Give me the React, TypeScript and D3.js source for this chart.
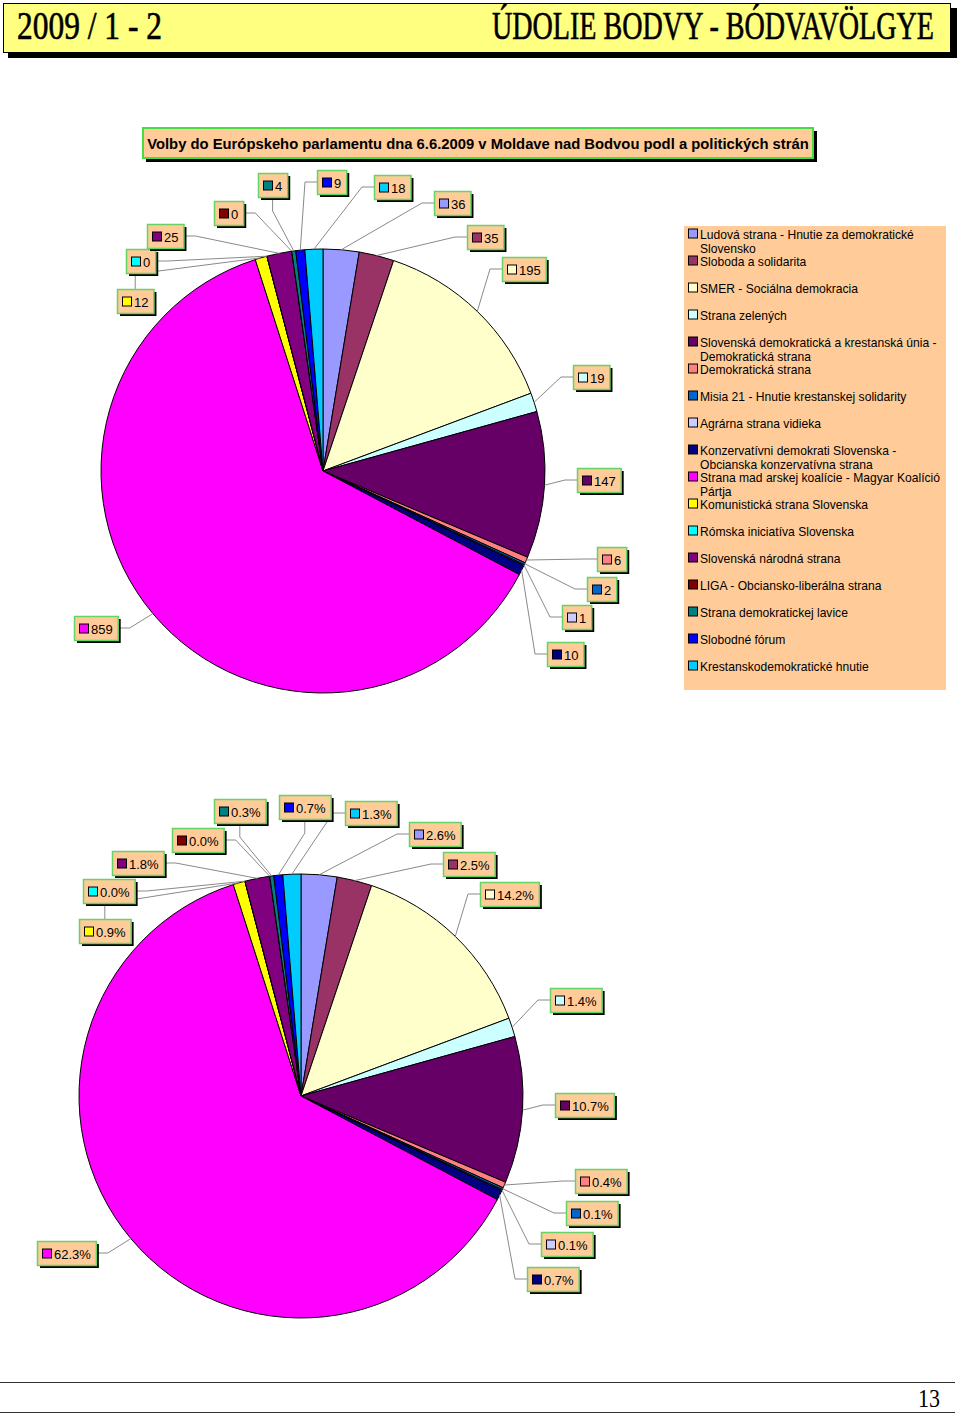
import React from "react";
import * as d3 from "d3";

// ---------- DATA ----------
const parties: string[][] = [
  ["Ludová strana - Hnutie za demokratické", "Slovensko"],
  ["Sloboda a solidarita"],
  ["SMER - Sociálna demokracia"],
  ["Strana zelených"],
  ["Slovenská demokratická a krestanská únia -", "Demokratická strana"],
  ["Demokratická strana"],
  ["Misia 21 - Hnutie krestanskej solidarity"],
  ["Agrárna strana vidieka"],
  ["Konzervatívni demokrati Slovenska -", "Obcianska konzervatívna strana"],
  ["Strana mad arskej koalície - Magyar Koalíció", "Pártja"],
  ["Komunistická strana Slovenska"],
  ["Rómska iniciatíva Slovenska"],
  ["Slovenská národná strana"],
  ["LIGA - Obciansko-liberálna strana"],
  ["Strana demokratickej lavice"],
  ["Slobodné fórum"],
  ["Krestanskodemokratické hnutie"],
];
const votes = [36, 35, 195, 19, 147, 6, 2, 1, 10, 859, 12, 0, 25, 0, 4, 9, 18];
const colors = [
  "#9999FF", "#993366", "#FFFFCC", "#CCFFFF", "#660066", "#FF8080", "#0066CC",
  "#CCCCFF", "#000080", "#FF00FF", "#FFFF00", "#00FFFF", "#800080", "#800000",
  "#008080", "#0000FF", "#00CCFF",
];
const headerLeft = "2009 / 1 - 2";
const headerRight = "ÚDOLIE BODVY - BÓDVAVÖLGYE";
const chartTitle = "Volby do Európskeho parlamentu dna 6.6.2009 v Moldave nad Bodvou podl a politických strán";
const pageNumber = "13";

// ---------- LAYOUT (label box offsets from pie centre, and leader anchor side) ----------
type Lay = [number, number, "l" | "r" | "t" | "b"];
const labelLayout1: Lay[] = [
  [111, -280, "l"], [144, -246, "l"], [179, -214, "l"], [250, -106, "l"], [254, -3, "l"],
  [274, 76, "l"], [264, 106, "l"], [239, 134, "l"], [224, 171, "l"], [-249, 145, "r"],
  [-206, -182, "t"], [-197, -222, "r"], [-176, -247, "r"], [-109, -270, "r"], [-65, -298, "b"],
  [-6, -301, "l"], [51, -296, "l"],
];
const labelLayout2: Lay[] = [
  [108, -274, "l"], [142, -244, "l"], [179, -214, "l"], [249, -108, "l"], [254, -3, "l"],
  [274, 73, "l"], [265, 105, "l"], [240, 136, "l"], [226, 171, "l"], [-264, 145, "r"],
  [-222, -177, "t"], [-218, -217, "r"], [-189, -245, "r"], [-129, -268, "r"], [-87, -297, "b"],
  [-22, -301, "b"], [44, -295, "l"],
];

const W = 960;
const H = 1414;
const R = 222;
const LABEL_FONT = "13px 'Liberation Sans', Arial, sans-serif";
const HEAD_FONT = "38px 'Liberation Serif', serif";

let ctx: CanvasRenderingContext2D | null = null;
function measure(t: string, font: string) {
  if (!ctx) ctx = document.createElement("canvas").getContext("2d");
  if (!ctx) return t.length * 7;
  ctx.font = font;
  return ctx.measureText(t).width;
}

function Pie({ cx, cy, texts, layout }: { cx: number; cy: number; texts: string[]; layout: Lay[] }) {
  const pie = d3.pie<number>().sort(null).value((d) => d)(votes);
  const arc = d3.arc<d3.PieArcDatum<number>>().innerRadius(0).outerRadius(R);
  const edge = d3.arc<d3.PieArcDatum<number>>().innerRadius(R).outerRadius(R);
  const line = d3.line();
  return (
    <g transform={`translate(${cx},${cy})`}>
      {pie.map((p, i) => (
        <path key={i} d={arc(p) || ""} fill={colors[i]} stroke="#000" strokeWidth={1} strokeLinejoin="round" />
      ))}
      {pie.map((p, i) => {
        const [dx, dy, side] = layout[i];
        const tw = measure(texts[i], LABEL_FONT);
        const bw = 5 + 10 + 2 + tw + 5;
        const bh = 24;
        const [ex, ey] = edge.centroid(p);
        let pts: [number, number][];
        if (side === "l") pts = [[ex, ey], [dx - 12, dy + bh / 2], [dx, dy + bh / 2]];
        else if (side === "r") pts = [[ex, ey], [dx + bw + 12, dy + bh / 2], [dx + bw, dy + bh / 2]];
        else if (side === "t") pts = [[ex, ey], [dx + bw / 2, dy - 15], [dx + bw / 2, dy]];
        else pts = [[ex, ey], [dx + bw / 2, dy + bh + 14], [dx + bw / 2, dy + bh]];
        return <path key={"l" + i} d={line(pts) || ""} fill="none" stroke="#8a8a8a" strokeWidth={1} />;
      })}
      {pie.map((p, i) => {
        const [dx, dy] = layout[i];
        const tw = measure(texts[i], LABEL_FONT);
        const bw = 5 + 10 + 2 + tw + 5;
        const bh = 24;
        return (
          <g key={"b" + i} transform={`translate(${dx},${dy})`}>
            <rect x={3} y={3} width={bw} height={bh} fill="#000" />
            <rect x={0.5} y={0.5} width={bw} height={bh} fill="#FFCC99" stroke="#66D366" strokeWidth={1.5} />
            <rect x={5.5} y={8} width={9} height={9} fill={colors[i]} stroke="#000" strokeWidth={1} />
            <text x={17} y={17.5} style={{ font: LABEL_FONT }} fill="#000">
              {texts[i]}
            </text>
          </g>
        );
      })}
    </g>
  );
}

function Squeezed({ x, y, width, text }: { x: number; y: number; width: number; text: string }) {
  const natural = measure(text, HEAD_FONT);
  const s = width / natural;
  return (
    <text transform={`translate(${x},${y}) scale(${s},1.05)`} style={{ font: HEAD_FONT }} fill="#000"
      stroke="#000" strokeWidth={0.6}>
      {text}
    </text>
  );
}

export default function App() {
  const total = d3.sum(votes);
  const countTexts = votes.map((v) => String(v));
  const pctTexts = votes.map((v) => ((v / total) * 100).toFixed(1) + "%");
  const legendY = d3.scaleLinear().domain([0, parties.length - 1]).range([234, 666]);

  return (
    <svg width={W} height={H} style={{ position: "absolute", left: 0, top: 0, background: "#fff" }}>
      {/* header */}
      <rect x={8} y={8} width={949} height={50} fill="#000" />
      <rect x={3.5} y={3.5} width={947} height={49} fill="#FFFF80" stroke="#000" strokeWidth={1} />
      <Squeezed x={17} y={39} width={145} text={headerLeft} />
      <Squeezed x={492} y={39} width={443} text={headerRight} />

      {/* title */}
      <rect x={146} y={131} width={671} height={31} fill="#000" />
      <rect x={143} y={128} width={670} height={30} fill="#FFCC99" stroke="#44DD44" strokeWidth={2} />
      <text x={478} y={148.5} textAnchor="middle" style={{ font: "bold 14.8px 'Liberation Sans', Arial, sans-serif" }} fill="#000">
        {chartTitle}
      </text>

      {/* legend */}
      <rect x={684} y={226} width={262} height={464} fill="#FFCC99" />
      {parties.map((lines, i) => {
        const y = legendY(i);
        return (
          <g key={i}>
            <rect x={688.5} y={y - 5} width={9} height={9} fill={colors[i]} stroke="#000" strokeWidth={1} />
            {lines.map((ln, j) => (
              <text key={j} x={700} y={y + 4.5 + j * 14} style={{ font: "12.1px 'Liberation Sans', Arial, sans-serif" }} fill="#000">
                {ln}
              </text>
            ))}
          </g>
        );
      })}

      <Pie cx={323} cy={471} texts={countTexts} layout={labelLayout1} />
      <Pie cx={301} cy={1096} texts={pctTexts} layout={labelLayout2} />

      {/* footer */}
      <line x1={0} x2={955} y1={1382.5} y2={1382.5} stroke="#333" strokeWidth={1} />
      <line x1={0} x2={955} y1={1412.5} y2={1412.5} stroke="#333" strokeWidth={1} />
      <text x={918} y={1407} textLength={22} lengthAdjust="spacingAndGlyphs"
        style={{ font: "26px 'Liberation Serif', serif" }} fill="#000">{pageNumber}</text>
    </svg>
  );
}
